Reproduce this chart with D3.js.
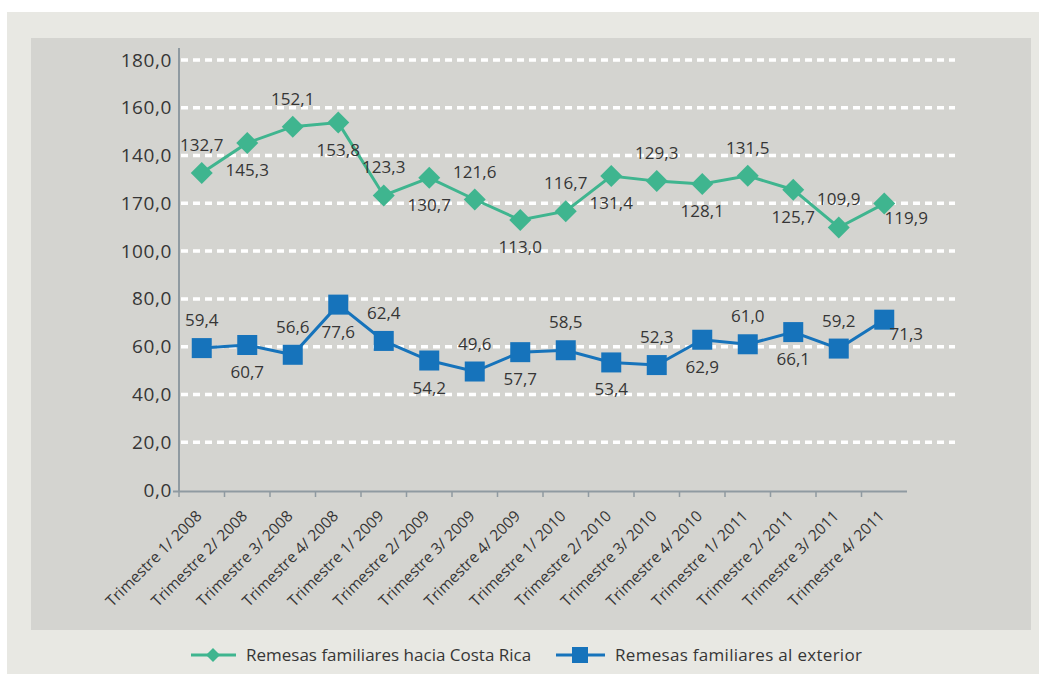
<!DOCTYPE html>
<html>
<head>
<meta charset="utf-8">
<script src="https://cdn.jsdelivr.net/npm/d3@7"></script>
<style>
  html, body { margin: 0; padding: 0; background: #ffffff; }
  svg { display: block; }
  text { font-family: "Open Sans", "Noto Sans", sans-serif; fill: #363636; }
</style>
</head>
<body>
<svg id="chart" width="1039" height="674"></svg>
<script>
const categories = [
  "Trimestre 1/ 2008", "Trimestre 2/ 2008", "Trimestre 3/ 2008", "Trimestre 4/ 2008",
  "Trimestre 1/ 2009", "Trimestre 2/ 2009", "Trimestre 3/ 2009", "Trimestre 4/ 2009",
  "Trimestre 1/ 2010", "Trimestre 2/ 2010", "Trimestre 3/ 2010", "Trimestre 4/ 2010",
  "Trimestre 1/ 2011", "Trimestre 2/ 2011", "Trimestre 3/ 2011", "Trimestre 4/ 2011"
];
const hacia = [132.7, 145.3, 152.1, 153.8, 123.3, 130.7, 121.6, 113.0, 116.7, 131.4, 129.3, 128.1, 131.5, 125.7, 109.9, 119.9];
const exterior = [59.4, 60.7, 56.6, 77.6, 62.4, 54.2, 49.6, 57.7, 58.5, 53.4, 52.3, 62.9, 61.0, 66.1, 59.2, 71.3];
const yTickValues = [0, 20, 40, 60, 80, 100, 120, 140, 160, 180];
const yTickLabels = ["0,0", "20,0", "40,0", "60,0", "80,0", "100,0", "170,0", "140,0", "160,0", "180,0"];
const seriesNames = ["Remesas familiares hacia Costa Rica", "Remesas familiares al exterior"];

const GREEN = "#3fb58f";
const BLUE = "#1673bb";
const AXIS = "#8f9aa1";

const svg = d3.select("#chart");

// backgrounds
svg.append("rect").attr("x", 7).attr("y", 12).attr("width", 1032).attr("height", 662).attr("fill", "#e8e8e3");
svg.append("rect").attr("x", 31).attr("y", 38).attr("width", 1000).attr("height", 592).attr("fill", "#d4d4d0");

const x = d3.scaleBand().domain(categories).range([179, 907]).paddingInner(0).paddingOuter(0);
const y = d3.scaleLinear().domain([0, 180]).range([490, 60]);
const cx = d => x(d) + x.bandwidth() / 2;

// gridlines
svg.append("g").selectAll("line").data(yTickValues.filter(v => v > 0)).join("line")
  .attr("x1", 181).attr("x2", 955)
  .attr("y1", d => y(d)).attr("y2", d => y(d))
  .attr("stroke", "#ffffff").attr("stroke-width", 3.5).attr("stroke-dasharray", "7,5");

// y axis
const yAxis = d3.axisLeft(y).tickValues(yTickValues).tickSize(0).tickPadding(7)
  .tickFormat((d, i) => yTickLabels[i]);
const gy = svg.append("g").attr("transform", "translate(179,0)").call(yAxis);
gy.select(".domain").remove();
gy.selectAll("text").attr("font-size", 19).attr("letter-spacing", 0.6)
  .style("font-family", '"Open Sans", sans-serif').attr("fill", "#333");
svg.append("line").attr("x1", 179).attr("x2", 179).attr("y1", 48).attr("y2", 492)
  .attr("stroke", AXIS).attr("stroke-width", 2);

// x axis
svg.append("line").attr("x1", 173).attr("x2", 907).attr("y1", 491.5).attr("y2", 491.5)
  .attr("stroke", AXIS).attr("stroke-width", 2);
const boundaries = categories.map(c => x(c));
svg.append("g").selectAll("line").data(boundaries).join("line")
  .attr("x1", d => d).attr("x2", d => d).attr("y1", 491).attr("y2", 497)
  .attr("stroke", AXIS).attr("stroke-width", 1.5);

svg.append("g").selectAll("text").data(categories).join("text")
  .attr("transform", d => `translate(${cx(d) + 1},${517}) rotate(-45)`)
  .attr("text-anchor", "end")
  .attr("font-size", 15.5)
  .attr("fill", "#333")
  .text(d => d);

// lines
const line = d3.line().x((d, i) => cx(categories[i])).y(d => y(d));
svg.append("path").datum(hacia).attr("d", line).attr("fill", "none")
  .attr("stroke", GREEN).attr("stroke-width", 3);
svg.append("path").datum(exterior).attr("d", line).attr("fill", "none")
  .attr("stroke", BLUE).attr("stroke-width", 3);

// markers
const diamond = s => `M0,${-s} L${s},0 L0,${s} L${-s},0 Z`;
svg.append("g").selectAll("path").data(hacia).join("path")
  .attr("transform", (d, i) => `translate(${cx(categories[i])},${y(d)})`)
  .attr("d", diamond(11)).attr("fill", GREEN);
svg.append("g").selectAll("rect").data(exterior).join("rect")
  .attr("x", (d, i) => cx(categories[i]) - 10).attr("y", d => y(d) - 10)
  .attr("width", 20).attr("height", 20).attr("fill", BLUE);

// data labels
const fmt = v => v.toFixed(1).replace(".", ",");
function labels(data) {
  svg.append("g").selectAll("text").data(data).join("text")
    .attr("x", (d, i) => cx(categories[i]) + (i === data.length - 1 ? 22 : 0))
    .attr("y", (d, i) => i === data.length - 1 ? y(d) + 20 : (i % 2 === 0 ? y(d) - 22 : y(d) + 33))
    .attr("text-anchor", "middle")
    .attr("font-size", 17)
    .attr("fill", "#3a3a3a")
    .text(d => fmt(d));
}
labels(hacia);
labels(exterior);

// legend
const lg = svg.append("g");
lg.append("line").attr("x1", 191).attr("x2", 236).attr("y1", 655).attr("y2", 655)
  .attr("stroke", GREEN).attr("stroke-width", 3);
lg.append("path").attr("transform", "translate(213,655)").attr("d", diamond(7)).attr("fill", GREEN);
lg.append("text").attr("x", 246).attr("y", 661).attr("font-size", 17).text(seriesNames[0]);
lg.append("line").attr("x1", 556).attr("x2", 605).attr("y1", 655).attr("y2", 655)
  .attr("stroke", BLUE).attr("stroke-width", 3);
lg.append("rect").attr("x", 572).attr("y", 647).attr("width", 16).attr("height", 16).attr("fill", BLUE);
lg.append("text").attr("x", 615).attr("y", 661).attr("font-size", 17).attr("letter-spacing", 0.3).text(seriesNames[1]);
</script>
</body>
</html>
